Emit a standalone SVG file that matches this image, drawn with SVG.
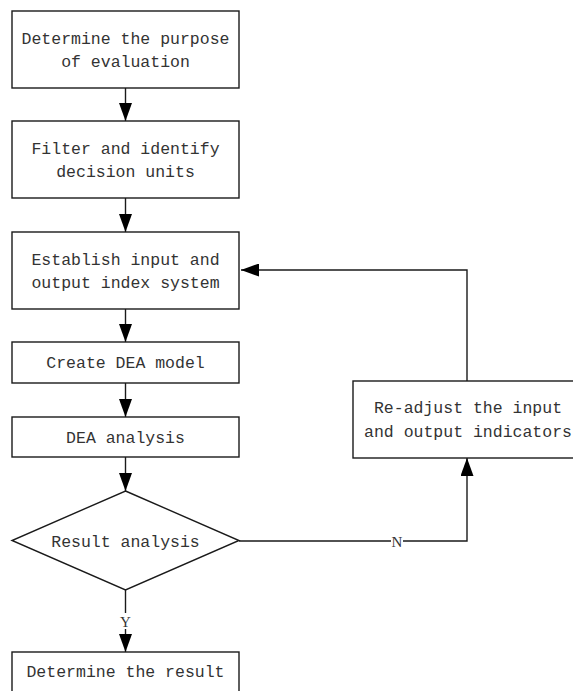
<svg xmlns="http://www.w3.org/2000/svg" width="573" height="691" viewBox="0 0 573 691">
<style>
.box{fill:#fff;stroke:#1a1a1a;stroke-width:1.4}
.t{font-family:"Liberation Mono","DejaVu Sans Mono",monospace;font-size:16.5px;fill:#333;text-anchor:middle}
.lbl{font-family:"Liberation Serif","DejaVu Serif",serif;font-size:15px;fill:#333;text-anchor:middle}
.c{fill:none;stroke:#1a1a1a;stroke-width:1.4}
</style>
<defs>
<marker id="ah" markerWidth="18" markerHeight="13" refX="18" refY="6.5" orient="auto" markerUnits="userSpaceOnUse">
<path d="M0,0 L18,6.5 L0,13 Z" fill="#000"/>
</marker>
</defs>
<rect width="573" height="691" fill="#fff"/>
<g id="connectors">
<line class="c" x1="125.5" y1="88" x2="125.5" y2="121" marker-end="url(#ah)"/>
<line class="c" x1="125.5" y1="198" x2="125.5" y2="232" marker-end="url(#ah)"/>
<line class="c" x1="125.5" y1="309" x2="125.5" y2="342" marker-end="url(#ah)"/>
<line class="c" x1="125.5" y1="383" x2="125.5" y2="417" marker-end="url(#ah)"/>
<line class="c" x1="125.5" y1="457" x2="125.5" y2="491" marker-end="url(#ah)"/>
<line class="c" x1="125.5" y1="590" x2="125.5" y2="652" marker-end="url(#ah)"/>
<polyline class="c" points="239,541 467,541 467,458" marker-end="url(#ah)"/>
<polyline class="c" points="467,381 467,270 241,270" marker-end="url(#ah)"/>
<rect x="119" y="613" width="13" height="16" fill="#fff"/>
<text class="lbl" x="125.5" y="627">Y</text>
<rect x="391" y="533" width="12" height="16" fill="#fff"/>
<text class="lbl" x="397" y="547">N</text>
</g>
<g id="n1">
<rect class="box" x="12" y="11" width="227" height="77"/>
<text class="t" x="125.5" y="44">Determine the purpose</text>
<text class="t" x="125.5" y="67">of evaluation</text>
</g>
<g id="n2">
<rect class="box" x="12" y="121" width="227" height="77"/>
<text class="t" x="125.5" y="154">Filter and identify</text>
<text class="t" x="125.5" y="177">decision units</text>
</g>
<g id="n3">
<rect class="box" x="12" y="232" width="227" height="77"/>
<text class="t" x="125.5" y="265">Establish input and</text>
<text class="t" x="125.5" y="288">output index system</text>
</g>
<g id="n4">
<rect class="box" x="12" y="342" width="227" height="41"/>
<text class="t" x="125.5" y="368">Create DEA model</text>
</g>
<g id="n5">
<rect class="box" x="12" y="417" width="227" height="40"/>
<text class="t" x="125.5" y="443">DEA analysis</text>
</g>
<g id="n6">
<polygon class="box" points="125.5,491 239,540.5 125.5,590 12,540.5"/>
<text class="t" x="125.5" y="547">Result analysis</text>
</g>
<g id="n7">
<rect class="box" x="12" y="652" width="227" height="60"/>
<text class="t" x="125.5" y="677">Determine the result</text>
</g>
<g id="n8">
<rect class="box" x="353" y="381" width="228" height="77"/>
<text class="t" x="468" y="413">Re-adjust the input</text>
<text class="t" x="468" y="437">and output indicators</text>
</g>
</svg>
